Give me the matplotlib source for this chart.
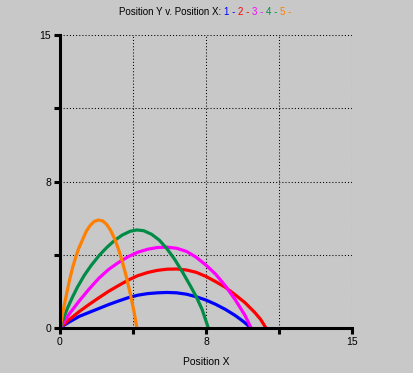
import matplotlib
matplotlib.use('Agg')
import matplotlib.pyplot as plt

# trajectories
x1 = [0, 0.25, 0.5, 1, 1.5, 2, 2.5, 3, 3.5, 4, 4.5, 5, 5.5, 6, 6.5, 7, 7.5, 8, 8.5, 9, 9.25, 9.5, 9.8]
y1 = [0, 0.17, 0.32, 0.6, 0.8, 1.0, 1.2, 1.38, 1.55, 1.68, 1.76, 1.8, 1.82, 1.8, 1.73, 1.6, 1.43, 1.21, 0.95, 0.64, 0.46, 0.27, 0]

x2 = [0, 0.5, 1, 1.5, 2, 2.5, 3, 3.5, 4, 4.5, 5, 5.5, 6, 6.5, 7, 7.5, 8, 8.5, 9, 9.5, 10, 10.3, 10.58]
y2 = [0, 0.45, 0.85, 1.21, 1.55, 1.88, 2.17, 2.45, 2.68, 2.84, 2.95, 3.01, 3.02, 2.97, 2.85, 2.64, 2.37, 2.08, 1.7, 1.3, 0.8, 0.45, 0]

x3 = [0, 0.5, 1, 1.5, 2, 2.5, 3, 3.5, 4, 4.5, 5, 5.5, 6, 6.5, 7, 7.5, 8, 8.5, 9, 9.5, 9.82]
y3 = [0, 0.75, 1.4, 2.0, 2.55, 3.0, 3.35, 3.65, 3.88, 4.03, 4.12, 4.14, 4.08, 3.92, 3.62, 3.22, 2.75, 2.15, 1.45, 0.65, 0]

x4 = [0, 0.2, 0.4, 0.65, 0.9, 1.25, 1.6, 2.0, 2.4, 2.8, 3.2, 3.6, 3.95, 4.3, 4.7, 5.1, 5.5, 5.9, 6.3, 6.7, 7.0, 7.3, 7.62]
y4 = [0, 0.55, 1.05, 1.6, 2.1, 2.7, 3.2, 3.7, 4.12, 4.48, 4.76, 4.95, 5.02, 4.98, 4.8, 4.5, 4.05, 3.5, 2.85, 2.15, 1.6, 0.95, 0]

x5 = [0, 0.1, 0.2, 0.35, 0.5, 0.65, 0.8, 0.95, 1.15, 1.35, 1.55, 1.75, 1.97, 2.2, 2.4, 2.6, 2.8, 3.0, 3.2, 3.4, 3.6, 3.8, 3.95]
y5 = [0, 0.55, 1.08, 1.8, 2.5, 3.1, 3.6, 4.05, 4.5, 4.95, 5.25, 5.45, 5.53, 5.48, 5.3, 5.0, 4.58, 4.05, 3.4, 2.65, 1.8, 0.85, 0]

series = [(x1, y1, '#0000ff'), (x2, y2, '#ff0000'), (x3, y3, '#ff00ff'),
          (x4, y4, '#008c46'), (x5, y5, '#ff8000')]

ticks = [0, 3.75, 7.5, 11.25, 15]
tick_labels = ['0', '', '8', '', '15']

bg = '#c8c8c8'
plt.rcParams['font.family'] = ['Liberation Sans', 'DejaVu Sans']

fig = plt.figure(figsize=(4.14, 3.73), dpi=100, facecolor=bg)
ax = fig.add_axes([60 / 414, 45 / 373, 292 / 414, 293 / 373], facecolor=bg)

for xs, ys, c in series:
    ax.plot(xs, ys, color=c, lw=2.3, solid_capstyle='butt', solid_joinstyle='round')

ax.set_xlim(0, 15)
ax.set_ylim(0, 15)
ax.set_xticks(ticks)
ax.set_xticklabels(tick_labels)
ax.set_yticks(ticks)
ax.set_yticklabels(tick_labels)
ax.grid(True, color='black', lw=0.75, linestyle=(0, (1, 2)))
for s in ['top', 'right']:
    ax.spines[s].set_visible(False)
for s in ['left', 'bottom']:
    ax.spines[s].set_linewidth(2.2)
ax.tick_params(direction='out', length=4.5, width=2.2, labelsize=7.5, pad=2)
ax.set_xlabel('Position X', fontsize=7.5, labelpad=7.5)

# multi-coloured title
parts = [('Position Y v. Position X: ', 'black'), ('1 - ', '#0000ff'), ('2 - ', '#ff0000'),
         ('3 - ', '#ff00ff'), ('4 - ', '#008c46'), ('5 -', '#ff8000')]
t = fig.text(119 / 414, 1 - 12 / 373, parts[0][0], color=parts[0][1], fontsize=7, va='center')
for txt, c in parts[1:]:
    t = ax.annotate(txt, xy=(1, 0.5), xycoords=t, va='center', ha='left',
                    color=c, fontsize=7, annotation_clip=False)

fig.savefig('out.png', dpi=100, facecolor=bg)
